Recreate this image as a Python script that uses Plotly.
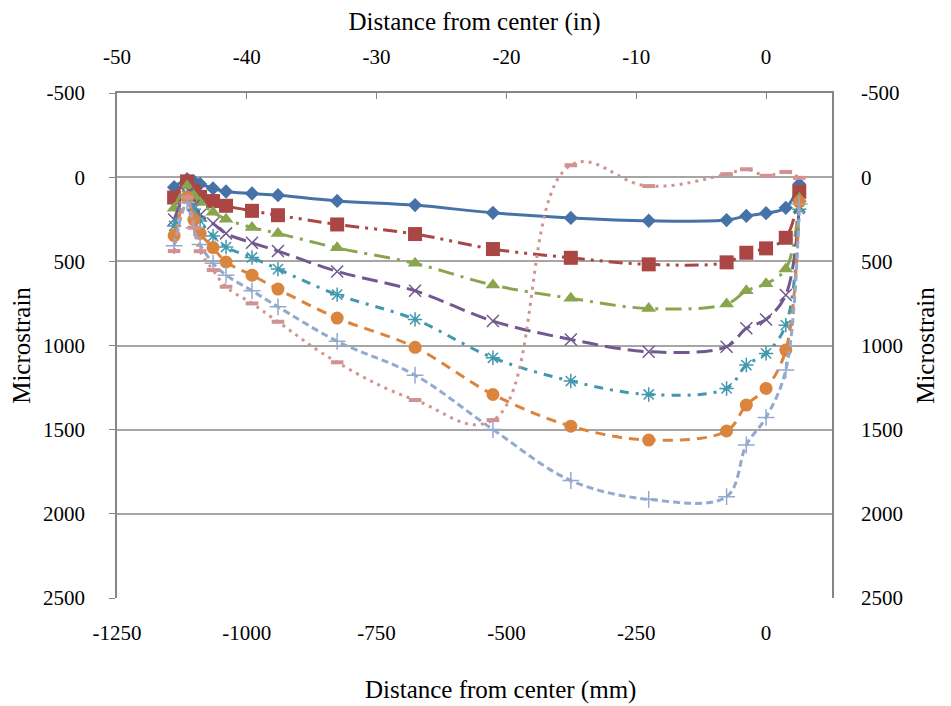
import plotly.graph_objects as go

# Distance from center (mm) of each gauge
x_mm = [-1140, -1115, -1102, -1090, -1065, -1040, -990, -940, -826, -676,
        -526, -376, -226, -76, -38, 0, 38, 64]

s1 = [60, 12, 25, 40, 67, 85, 97, 107, 141, 166, 212, 242, 259, 255, 230, 214, 182, 42]
s2 = [121, 25, 80, 117, 142, 170, 200, 226, 281, 338, 427, 479, 518, 506, 449, 423, 360, 87]
s3 = [184, 52, 110, 150, 209, 250, 299, 334, 420, 512, 641, 720, 780, 754, 675, 633, 545, 127]
s4 = [252, 97, 170, 225, 275, 334, 390, 439, 560, 675, 855, 964, 1037, 1007, 898, 845, 700, 175]
s5 = [290, 110, 190, 260, 350, 415, 477, 546, 698, 845, 1073, 1211, 1291, 1255, 1116, 1047, 879, 190]
s6 = [347, 119, 252, 334, 418, 504, 582, 665, 837, 1011, 1291, 1479, 1562, 1508, 1354, 1255, 1027, 147]
s7 = [407, 150, 300, 400, 511, 582, 675, 770, 975, 1176, 1499, 1802, 1914, 1898, 1591, 1427, 1146, 160]
s8 = [439, 120, 300, 440, 552, 651, 750, 859, 1100, 1324, 1443, -71, 53, -18, -47, -8, -31, 4]

mm_ticks = [-1250, -1000, -750, -500, -250, 0]
mm_labels = ["-1250", "-1000", "-750", "-500", "-250", "0"]
in_ticks = [-50, -40, -30, -20, -10, 0]
in_labels = ["-50", "-40", "-30", "-20", "-10", "0"]
y_ticks = [-500, 0, 500, 1000, 1500, 2000, 2500]
y_labels = ["-500", "0", "500", "1000", "1500", "2000", "2500"]

series = [s1, s2, s3, s4, s5, s6, s7, s8]
colors = ["#4572A7", "#AA4643", "#89A54E", "#71588F", "#4198AF", "#DB843D", "#93A9CF", "#D19392"]
dashes = ["solid", "14px,6px,3px,6px,3px,6px", "16px,7px,3px,7px", "16px,7px",
          "9px,7px,3px,7px", "10px,7px", "7px,4px", "3px,5px"]
symbols = ["diamond", "square", "triangle-up", "x-thin-open", "asterisk-open",
           "circle", "cross-thin-open", "line-ew-open"]
msizes = [11, 14, 13, 12, 12, 13, 12, 9]
smooth = [1.0, 1.0, 1.0, 1.0, 1.0, 1.0, 1.0, 1.2]

FAM = "'Liberation Serif', 'Times New Roman', Times, serif"
tick_font = dict(family=FAM, size=21, color="#000000")
title_font = dict(family=FAM, size=25, color="#000000")

fig = go.Figure()
for i, ys in enumerate(series):
    thin = symbols[i] in ("x-thin-open", "asterisk-open", "cross-thin-open", "line-ew-open")
    fig.add_trace(go.Scatter(
        x=x_mm, y=ys, mode="lines+markers",
        line=dict(color=colors[i], width=3, dash=dashes[i], shape="spline", smoothing=smooth[i]),
        marker=dict(symbol=symbols[i], size=msizes[i], color=colors[i],
                    line=dict(color=colors[i], width=(4 if symbols[i] == "line-ew-open" else 1.5) if thin else 0)),
        showlegend=False, hoverinfo="x+y",
    ))

# invisible trace to activate top (in) and right axes
fig.add_trace(go.Scatter(x=[v / 25 for v in x_mm], y=s1, xaxis="x2", yaxis="y2",
                         mode="none", showlegend=False, hoverinfo="skip"))

axcol = "#868686"
fig.update_layout(
    width=951, height=706,
    margin=dict(l=109, r=127, t=85, b=116),
    paper_bgcolor="white", plot_bgcolor="white",
    xaxis=dict(range=[-1250, 127], tickvals=mm_ticks, ticktext=mm_labels, automargin=False,
               showgrid=False, zeroline=False, showline=False, ticks="",
               tickfont=tick_font, ticklabelstandoff=20),
    xaxis2=dict(range=[-50, 5.08], overlaying="x", side="top", anchor="y", automargin=False,
                tickvals=in_ticks, ticktext=in_labels, showgrid=False, zeroline=False,
                showline=True, linecolor=axcol, linewidth=1.5, ticks="inside", ticklen=6,
                tickcolor=axcol, tickfont=tick_font, ticklabelstandoff=19,
                title=dict(text="Distance from center (in)", font=title_font, standoff=14)),
    yaxis=dict(range=[2500, -500], tickvals=y_ticks, ticktext=y_labels, automargin=False,
               showgrid=True, gridcolor="#A6A6A6", gridwidth=1.5, zeroline=False,
               showline=True, linecolor=axcol, linewidth=1.5, ticks="outside", ticklen=6,
               tickcolor=axcol, tickfont=tick_font, ticklabelstandoff=20,
               title=dict(text="Microstrain", font=title_font, standoff=13)),
    yaxis2=dict(range=[2500, -500], overlaying="y", side="right", anchor="x", automargin=False,
                tickvals=y_ticks, ticktext=y_labels, showgrid=False,
                zeroline=False, showline=True, linecolor=axcol, linewidth=1.5,
                ticks="", tickfont=tick_font, ticklabelstandoff=23,
                title=dict(text="Microstrain", font=title_font, standoff=15)),
    annotations=[dict(text="Distance from center (mm)", xref="paper", yref="paper",
                      x=0.5365, y=-0.182, xanchor="center", yanchor="middle",
                      showarrow=False, font=title_font)],
)

fig.write_html("out.html")
